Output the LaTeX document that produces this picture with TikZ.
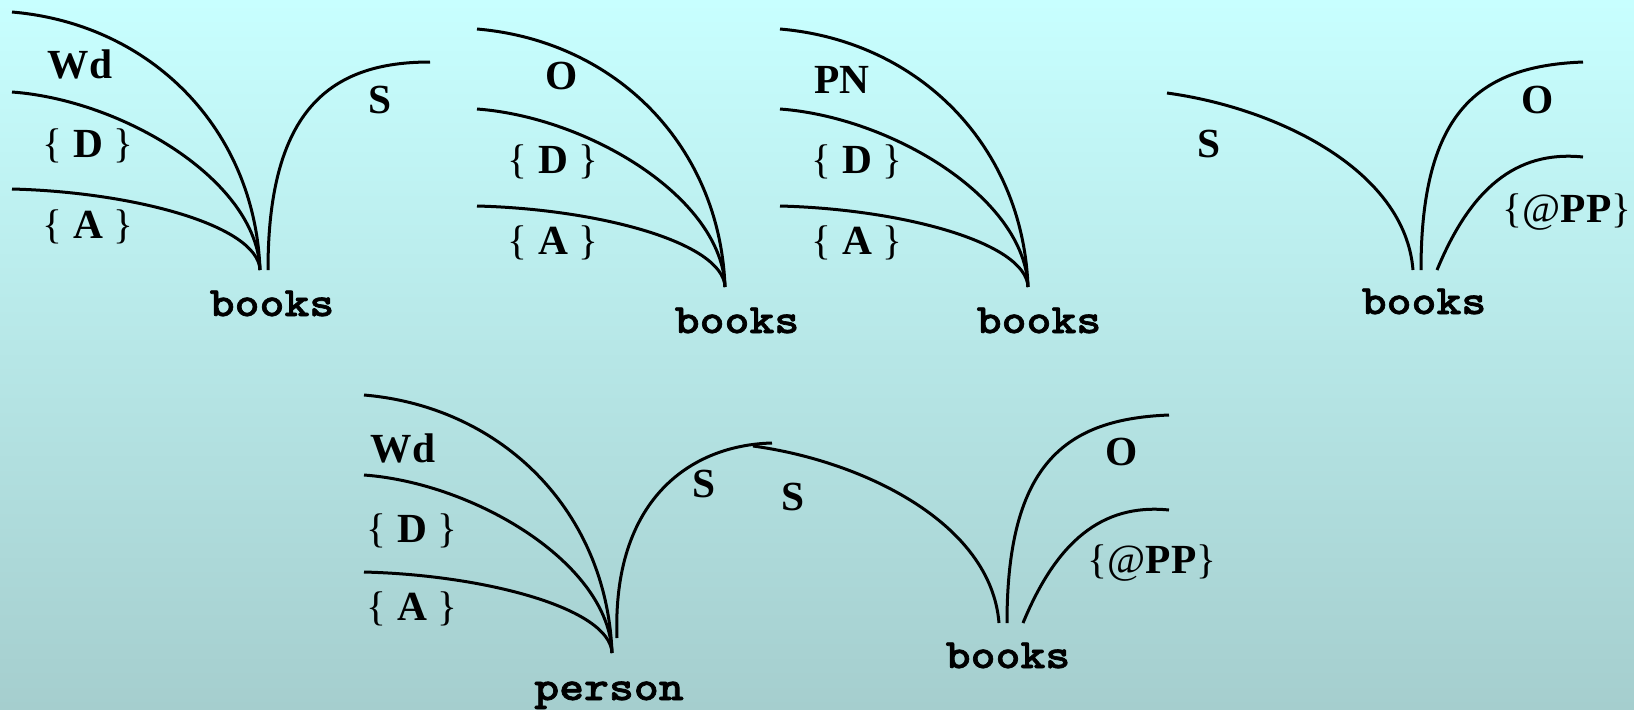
\documentclass[tikz,border=0pt]{standalone}
\usepackage{fontspec}
\setmainfont{Liberation Serif}
\newfontfamily\wordfont{lmmonolt10-bold.otf}[FakeStretch=1.14, FakeBold=1.6]
\usepackage{tikz}
\usetikzlibrary{positioning}
\definecolor{bgtop}{RGB}{200,255,255}
\definecolor{bgbot}{RGB}{165,206,206}

\newcommand{\optlink}[1]{{\mdseries\{}#1{\mdseries\}}}

\begin{document}
\begin{tikzpicture}[x=0.5pt,y=-0.5pt]

\tikzset{
  link/.style={black, line width=1.5pt},
  lab/.style={font=\fontsize{20.7}{24}\selectfont\bfseries, anchor=base, inner sep=0pt},
  word/.style={font=\fontsize{20.8}{24}\selectfont\wordfont, anchor=base, inner sep=0pt}
}

% three links coming in from the left, junction at #2,#3
\newcommand{\leftfan}[3]{
  \begin{scope}[shift={(#2,#3)}]
    \coordinate (#1) at (0,0);
    \coordinate (#1-a) at (-248,-258);
    \coordinate (#1-b) at (-248,-178);
    \coordinate (#1-c) at (-248,-81);
    \draw[link] (#1-a) .. controls +(140,12) and +(-5,-140) .. (#1);
    \draw[link] (#1-b) .. controls +(110,8) and +(-3,-90) .. (#1);
    \draw[link] (#1-c) .. controls +(120,3) and +(-2,-45) .. (#1);
  \end{scope}
}

% S from the left, O and @PP to the right, foot of O at #2,#3
\newcommand{\rightfan}[3]{
  \begin{scope}[shift={(#2,#3)}]
    \coordinate (#1) at (0,0);
    \coordinate (#1-s) at (-254,-177);
    \coordinate (#1-sfoot) at (-8,0);
    \coordinate (#1-pfoot) at (16,0);
    \coordinate (#1-o) at (162,-208);
    \coordinate (#1-p) at (162,-113);
    \draw[link] (#1-s) .. controls +(110,15) and +(-8,-100) .. (#1-sfoot);
    \draw[link] (#1) .. controls +(0,-160) and +(-103,4) .. (#1-o);
    \draw[link] (#1-pfoot) .. controls +(33,-80) and +(-68,-7) .. (#1-p);
  \end{scope}
}

% background
\useasboundingbox (0,0) rectangle (1634,709);
\shade[top color=bgtop, bottom color=bgbot] (0,0) rectangle (1634,709);

% books (1)
\leftfan{j1}{260}{270}
\coordinate (s1-foot) at (268,270);
\coordinate (s1-end) at (430,62);
\draw[link] (s1-foot) .. controls +(0,-160) and +(-100,0) .. (s1-end);
\node[lab] (wd1) at (80,78) {Wd};
\node[lab] (d1) at (88,157) {\optlink{ D }};
\node[lab] (a1) at (88,238) {\optlink{ A }};
\node[lab] (s1) at (380,113) {S};
\node[word] (books1) at (272,316) {books};

% books (2)
\leftfan{j2}{725}{287}
\node[lab] (o2) at (562,89) {O};
\node[lab] (d2) at (553,173) {\optlink{ D }};
\node[lab] (a2) at (553,254) {\optlink{ A }};
\node[word] (books2) at (737,333) {books};

% books (3)
\leftfan{j3}{1028}{287}
\node[lab] (pn3) at (842,93) {PN};
\node[lab] (d3) at (857,173) {\optlink{ D }};
\node[lab] (a3) at (857,254) {\optlink{ A }};
\node[word] (books3) at (1039,333) {books};

% books (4)
\rightfan{j4}{1421}{270}
\node[lab] (s4) at (1209,157) {S};
\node[lab] (o4) at (1538,113) {O};
\node[lab] (pp4) at (1567,222) {\optlink{{\mdseries @}PP}};
\node[word] (books4) at (1424,314) {books};

% person -- books
\leftfan{jp}{612}{653}
\coordinate (sp-foot) at (617,638);
\coordinate (sp-end) at (772,443);
\draw[link] (sp-foot) .. controls +(-5,-138) and +(-82,2) .. (sp-end);
\node[lab] (wdp) at (403,462) {Wd};
\node[lab] (dp) at (412,542) {\optlink{ D }};
\node[lab] (ap) at (412,620) {\optlink{ A }};
\node[lab] (sp) at (704,497) {S};
\node[word] (person) at (609,700) {person};

\rightfan{jb}{1007}{623}
\node[lab] (sb) at (793,510) {S};
\node[lab] (ob) at (1122,465) {O};
\node[lab] (ppb) at (1152,573) {\optlink{{\mdseries @}PP}};
\node[word] (booksb) at (1008,668) {books};

\end{tikzpicture}
\end{document}
